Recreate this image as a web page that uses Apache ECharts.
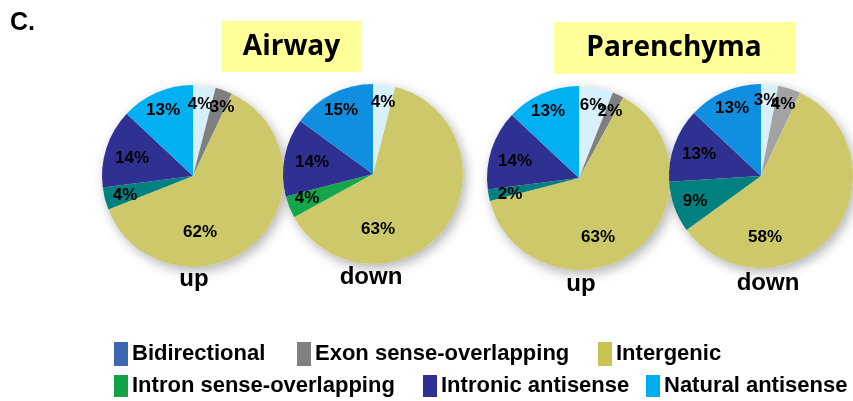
<!DOCTYPE html>
<html>
<head>
<meta charset="utf-8">
<script src="https://cdn.jsdelivr.net/npm/echarts@6/dist/echarts.min.js"></script>
<style>
  html, body { margin: 0; padding: 0; background: #fff; }
  #chart { width: 853px; height: 401px; }
</style>
</head>
<body>
<div id="chart"></div>
<script>
// Transcript classes, in clockwise order from 12 o'clock
const categories = ['Bidirectional', 'Exon sense-overlapping', 'Intergenic',
  'Intron sense-overlapping', 'Intronic antisense', 'Natural antisense'];

// Percent of lncRNAs per class
const airwayUp = [4, 3, 62, 4, 14, 13];
const airwayDown = [4, 0, 63, 4, 14, 15];
const parenchymaUp = [6, 2, 63, 2, 14, 13];
const parenchymaDown = [3, 4, 58, 9, 13, 13];

const groupTitles = ['Airway', 'Parenchyma'];
const directionLabels = ['up', 'down', 'up', 'down'];

// Legend swatch colours
const legendColors = ['#3c67b1', '#808080', '#c9c255', '#12a24c', '#2f3192', '#00aeef'];

// Slice colours for each pie
const palettes = [
  ['#d8f0fb', '#7f7f7f', '#cdc96b', '#00807f', '#2e3192', '#00b0f0'],
  ['#d8f0fb', '#7f7f7f', '#cdc96b', '#14a64a', '#2e3192', '#108fe0'],
  ['#d8f0fb', '#7f7f7f', '#cdc96b', '#00807f', '#2e3192', '#00b0f0'],
  ['#d8f0fb', '#a3a3a3', '#cdc96b', '#00807f', '#2e3192', '#108fe0']
];

const pies = [
  { values: airwayUp, cx: 193, cy: 176, r: 91 },
  { values: airwayDown, cx: 373, cy: 174, r: 90 },
  { values: parenchymaUp, cx: 579, cy: 178, r: 92 },
  { values: parenchymaDown, cx: 761, cy: 176, r: 92 }
];

// Hand-placed percent labels: offset of each label from its pie centre
const labelOffsets = [
  [[7, -72], [29, -69], [7, 56], [-68, 19], [-61, -18], [-30, -66]],
  [[10, -72], [0, 0], [5, 55], [-66, 24], [-61, -12], [-32, -64]],
  [[13, -73], [31, -67], [19, 59], [-69, 16], [-64, -17], [-31, -67]],
  [[5, -76], [22, -72], [4, 61], [-66, 25], [-62, -22], [-29, -68]]
];

const chart = echarts.init(document.getElementById('chart'), null, { renderer: 'canvas' });

const series = [];
pies.forEach((p, i) => {
  const data = categories.map((name, k) => ({
    name, value: p.values[k], itemStyle: { color: palettes[i][k] }
  }));
  // soft shadow disc behind the pie
  series.push({
    type: 'pie', silent: true, center: [p.cx, p.cy], radius: p.r, z: 1,
    label: { show: false }, labelLine: { show: false },
    data: [{ value: 1, name: '', itemStyle: { color: '#fff', shadowBlur: 12, shadowOffsetX: 3, shadowOffsetY: 4, shadowColor: 'rgba(0,0,0,0.3)' } }],
    legendHoverLink: false, tooltip: { show: false }
  });
  series.push({
    type: 'pie', center: [p.cx, p.cy], radius: p.r, startAngle: 90, clockwise: true,
    z: 2, avoidLabelOverlap: false, labelLine: { show: false }, data,
    label: {
      show: true, position: 'inside', color: '#000',
      fontFamily: '"Liberation Sans", Arial, sans-serif', fontWeight: 'bold', fontSize: 17,
      formatter: (d) => d.value > 0 ? d.value + '%' : ''
    },
    labelLayout: (params) => {
      const off = labelOffsets[i][params.dataIndex];
      return { x: p.cx + off[0], y: p.cy + off[1], align: 'center', verticalAlign: 'middle', hideOverlap: false };
    },
    emphasis: { disabled: true }
  });
});

// one legend block per class, laid out in two rows
const legendSpots = [
  { left: 114, top: 342 }, { left: 297, top: 342 }, { left: 598, top: 342 },
  { left: 114, top: 375 }, { left: 423, top: 375 }, { left: 646, top: 375 }
];
const legends = categories.map((name, k) => ({
  left: legendSpots[k].left, top: legendSpots[k].top,
  itemWidth: 14, itemHeight: k < 3 ? 24 : 22, itemGap: 0, padding: 0,
  icon: 'rect', selectedMode: false,
  textStyle: { fontFamily: '"Liberation Sans", Arial, sans-serif', fontWeight: 'bold', fontSize: 22, color: '#000', padding: [0, 0, 0, -1] },
  data: [{ name, itemStyle: { color: legendColors[k] } }]
}));

const graphics = [
  { type: 'text', left: 10, top: 11, style: { text: 'C.', font: 'bold 25px "Liberation Sans", Arial', fill: '#000' } },
  { type: 'rect', shape: { x: 222, y: 21, width: 139, height: 51 }, style: { fill: '#ffff99' } },
  { type: 'text', style: { text: groupTitles[0], x: 291.5, y: 47, align: 'center', verticalAlign: 'middle', font: 'bold 28px "Open Sans", sans-serif', fill: '#000' } },
  { type: 'rect', shape: { x: 554, y: 22, width: 241, height: 52 }, style: { fill: '#ffff99' } },
  { type: 'text', style: { text: groupTitles[1], x: 674, y: 48, align: 'center', verticalAlign: 'middle', font: 'bold 28px "Open Sans", sans-serif', fill: '#000' } }
];
const dirPos = [[194, 279], [371, 277], [581, 284], [768, 283]];
directionLabels.forEach((t, i) => {
  graphics.push({ type: 'text', style: { text: t, x: dirPos[i][0], y: dirPos[i][1], align: 'center', verticalAlign: 'middle', font: 'bold 24px "Liberation Sans", Arial', fill: '#000' } });
});

chart.setOption({
  animation: false,
  backgroundColor: '#fff',
  legend: legends,
  graphic: graphics,
  series
});
</script>
</body>
</html>
